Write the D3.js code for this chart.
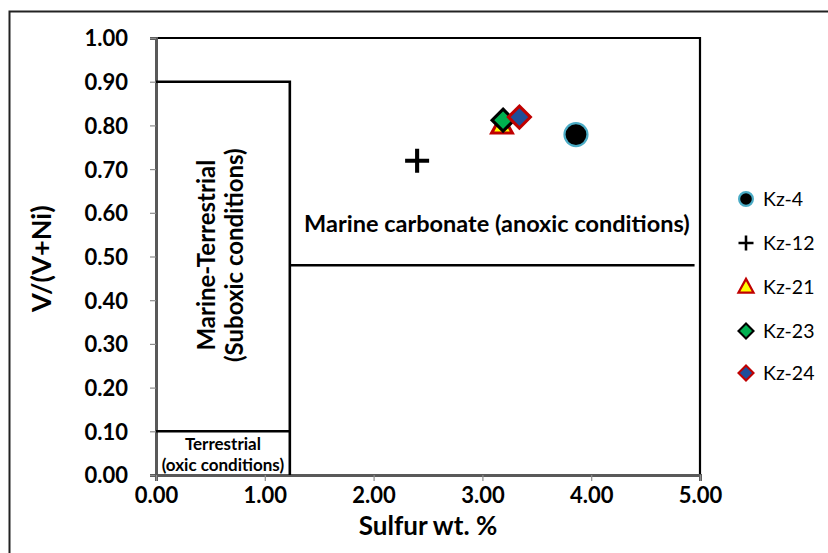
<!DOCTYPE html>
<html>
<head>
<meta charset="utf-8">
<script src="https://cdn.jsdelivr.net/npm/d3@7"></script>
<style>
  html, body { margin: 0; padding: 0; background: #fff; }
  svg { display: block; }
  text { font-family: Lato, "Open Sans", sans-serif; fill: #000; }
</style>
</head>
<body>
<svg id="chart" width="828" height="553"></svg>
<script>
// Samples: sulfur content (wt. %) against V/(V+Ni)
const samples = ["Kz-4", "Kz-12", "Kz-21", "Kz-23", "Kz-24"];
const sulfur = [3.86, 2.40, 3.18, 3.19, 3.34];
const vRatio = [0.779, 0.719, 0.80, 0.812, 0.819];
const markerShapes = ["circle", "plus", "triangle", "diamond", "diamond"];
const markerFills = ["#000000", "#000000", "#ffff00", "#00b050", "#1f4e99"];
const markerStrokes = ["#4bacc6", "#000000", "#c00000", "#000000", "#c00000"];

const xTicks = [0, 1, 2, 3, 4, 5];
const yTicks = [0, 0.1, 0.2, 0.3, 0.4, 0.5, 0.6, 0.7, 0.8, 0.9, 1.0];

// Field boundaries (sulfur, ratio)
const sulfurBoundary = 1.23;
const suboxicTop = 0.90;
const oxicTop = 0.10;
const anoxicFloor = 0.48;
const anoxicEnd = 4.95;

const svg = d3.select("#chart");
const margin = { left: 156, right: 128, top: 38, bottom: 78 };
const W = 828, H = 553;

const x = d3.scaleLinear().domain([0, 5]).range([margin.left, W - margin.right]);
const y = d3.scaleLinear().domain([0, 1]).range([H - margin.bottom, margin.top]);

// Outer chart frame
svg.append("rect")
  .attr("x", 9.5).attr("y", 11.5).attr("width", 840).attr("height", 560)
  .attr("fill", "none").attr("stroke", "#222").attr("stroke-width", 2);

// Plot frame: top and right edges
svg.append("path")
  .attr("d", `M${x(0)},${y(1)}H${x(5)}V${y(0)}`)
  .attr("fill", "none").attr("stroke", "#000").attr("stroke-width", 2.2);

// Axes
const axisColor = "#595959";
const yAxis = svg.append("g")
  .attr("transform", `translate(${x(0)},0)`)
  .call(d3.axisLeft(y).tickValues(yTicks).tickFormat(d3.format(".2f")).tickSize(6).tickPadding(22));
const xAxis = svg.append("g")
  .attr("transform", `translate(0,${y(0)})`)
  .call(d3.axisBottom(x).tickValues(xTicks).tickFormat(d3.format(".2f")).tickSize(6).tickPadding(6));

[xAxis, yAxis].forEach(g => {
  g.select(".domain").attr("stroke", axisColor).attr("stroke-width", 3);
  g.selectAll(".tick line").attr("stroke", "#8c8c8c").attr("stroke-width", 1.2);
  g.selectAll(".tick text")
    .style("font-family", "Lato, 'Open Sans', sans-serif")
    .style("font-size", "22px").style("font-weight", "bold").attr("fill", "#000");
});
yAxis.selectAll(".tick text").attr("dy", "0.36em");
xAxis.selectAll(".tick text").attr("dy", "0.72em");

// Environment field boundaries
const fieldLines = [
  [[0, suboxicTop], [sulfurBoundary, suboxicTop], [sulfurBoundary, 0]],
  [[0, oxicTop], [sulfurBoundary, oxicTop]],
  [[sulfurBoundary, anoxicFloor], [anoxicEnd, anoxicFloor]]
];
const line = d3.line().x(d => x(d[0])).y(d => y(d[1]));
svg.selectAll("path.field").data(fieldLines).join("path")
  .attr("class", "field")
  .attr("d", line)
  .attr("fill", "none").attr("stroke", "#000").attr("stroke-width", 2.6);

// Field labels
svg.append("text")
  .attr("x", (x(sulfurBoundary) + x(5)) / 2 + 2).attr("y", y(0.556))
  .attr("text-anchor", "middle")
  .style("font-size", "23.5px").style("font-weight", "bold")
  .text("Marine carbonate (anoxic conditions)");

const mt = svg.append("text")
  .attr("transform", `translate(${(x(0) + x(sulfurBoundary)) / 2 - 3},${y(0.503)}) rotate(-90)`)
  .attr("text-anchor", "middle")
  .style("font-size", "24px").style("font-weight", "bold");
mt.append("tspan").attr("x", 0).attr("dy", "-0.2em").text("Marine-Terrestrial");
mt.append("tspan").attr("x", 0).attr("dy", "1.15em").text("(Suboxic conditions)");

const tx = (x(0) + x(sulfurBoundary)) / 2;
const tt = svg.append("text")
  .attr("x", tx).attr("y", y(0.058))
  .attr("text-anchor", "middle")
  .style("font-size", "17px").style("font-weight", "bold");
tt.append("tspan").attr("x", tx).attr("dy", 0).text("Terrestrial");
tt.append("tspan").attr("x", tx).attr("dy", "1.25em").text("(oxic conditions)");

// Axis titles
svg.append("text")
  .attr("x", x(2.5)).attr("y", 535)
  .attr("text-anchor", "middle")
  .style("font-size", "26px").style("font-weight", "bold")
  .text("Sulfur wt. %");
svg.append("text")
  .attr("transform", `translate(51,${y(0.495)}) rotate(-90)`)
  .attr("text-anchor", "middle")
  .style("font-size", "27px").style("font-weight", "bold")
  .text("V/(V+Ni)");

// Marker drawing
function drawMarker(g, shape, fill, stroke, s) {
  if (shape === "circle") {
    g.append("circle").attr("r", s * 0.46).attr("fill", fill)
      .attr("stroke", stroke).attr("stroke-width", 2.2);
  } else if (shape === "plus") {
    g.append("path").attr("d", `M${-s/2},0H${s/2}M0,${-s/2}V${s/2}`)
      .attr("fill", "none").attr("stroke", fill).attr("stroke-width", s * 0.17);
  } else if (shape === "triangle") {
    const h = s * 0.82;
    g.append("path").attr("d", `M0,${-h * 0.62}L${s * 0.47},${h * 0.42}L${-s * 0.47},${h * 0.42}Z`)
      .attr("fill", fill).attr("stroke", stroke).attr("stroke-width", s * 0.14)
      .attr("stroke-linejoin", "miter");
  } else if (shape === "diamond") {
    const r = s * 0.5;
    g.append("path").attr("d", `M0,${-r}L${r},0L0,${r}L${-r},0Z`)
      .attr("fill", fill).attr("stroke", stroke).attr("stroke-width", s * 0.14);
  }
}

// Data points (plotting order keeps the later samples on top)
const pts = svg.append("g");
samples.forEach((name, i) => {
  const g = pts.append("g").attr("transform", `translate(${x(sulfur[i])},${y(vRatio[i])})`);
  const size = markerShapes[i] === "circle" ? 25 : (markerShapes[i] === "plus" ? 24 : 22);
  drawMarker(g, markerShapes[i], markerFills[i], markerStrokes[i], size);
});

// Legend
const legend = svg.append("g");
const legendY = [199, 243, 287, 331, 373];
samples.forEach((name, i) => {
  const g = legend.append("g").attr("transform", `translate(746,${legendY[i]})`);
  const sizes = { circle: 15, plus: 15, triangle: 16, diamond: 15 };
  drawMarker(g.append("g"), markerShapes[i], markerFills[i], markerStrokes[i], sizes[markerShapes[i]]);
  g.append("text").attr("x", 17).attr("dy", "0.36em")
    .style("font-size", "19.5px")
    .text(name);
});
</script>
</body>
</html>
